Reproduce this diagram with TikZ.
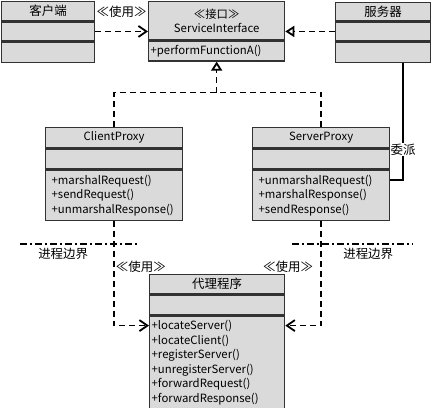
\documentclass[tikz,border=0pt]{standalone}
\usepackage{fontspec}
\setmainfont{Noto Sans CJK SC}
\usetikzlibrary{arrows.meta}
\usetikzlibrary{calc}

\definecolor{boxfill}{RGB}{218,218,218}
\definecolor{boxline}{RGB}{50,50,50}

\tikzset{
	cls/.style={draw=boxline, fill=boxfill, line width=1.3bp, inner sep=0pt, anchor=north west},
	opsbox/.style={cls, align=left, inner xsep=#1},
	cjk/.style={font=\fontsize{12.5}{14.5}\selectfont},
	dep/.style={line width=1.6bp, dash pattern=on 6bp off 4bp},
	uses/.style={dep, -{Straight Barb[length=8bp, width=11bp, line width=1.8bp]}},
	realize/.style={dep, -{Triangle[open, length=9bp, width=11bp, line width=1.8bp]}},
	boundary/.style={line width=1.3bp, dash pattern=on 7bp off 3bp on 2bp off 3bp}
}

\begin{document}
\begin{tikzpicture}[x=1bp, y=-1bp, font=\fontsize{11.4}{14.5}\selectfont]
	\useasboundingbox (0,0) rectangle (438,407);

	% Client
	\begin{scope}
		\node[cls, cjk, minimum width=93bp, minimum height=19bp] (client) at (1,1) {客户端};
		\node[cls, minimum width=93bp, minimum height=19bp] (client-attr) at (client.south west) {};
		\node[cls, minimum width=93bp, minimum height=20bp] (client-ops) at (client-attr.south west) {};
	\end{scope}

	% Interface
	\begin{scope}
		\node[cls, minimum width=136bp, minimum height=38bp, align=center] (iface) at (148,1) {≪接口≫\\ServiceInterface};
		\node[opsbox=2bp, minimum width=136bp, minimum height=20bp, text width=132bp] (iface-ops) at (iface.south west) {+performFunctionA()};
	\end{scope}

	% Server
	\begin{scope}
		\node[cls, cjk, minimum width=95bp, minimum height=18bp] (server) at (335,2) {服务器};
		\node[cls, minimum width=95bp, minimum height=19bp] (server-attr) at (server.south west) {};
		\node[cls, minimum width=95bp, minimum height=20bp] (server-ops) at (server-attr.south west) {};
	\end{scope}

	% Client proxy
	\begin{scope}
		\node[cls, minimum width=137bp, minimum height=20bp] (cproxy) at (45,127) {ClientProxy};
		\node[cls, minimum width=137bp, minimum height=20bp] (cproxy-attr) at (cproxy.south west) {};
		\node[opsbox=6bp, minimum width=137bp, minimum height=50bp, text width=125bp] (cproxy-ops) at (cproxy-attr.south west) {+marshalRequest()\\+sendRequest()\\+unmarshalResponse()};
	\end{scope}

	% Server proxy
	\begin{scope}
		\node[cls, minimum width=137bp, minimum height=20bp] (sproxy) at (252,127) {ServerProxy};
		\node[cls, minimum width=137bp, minimum height=20bp] (sproxy-attr) at (sproxy.south west) {};
		\node[opsbox=6bp, minimum width=137bp, minimum height=50bp, text width=125bp] (sproxy-ops) at (sproxy-attr.south west) {+unmarshalRequest()\\+marshalResponse()\\+sendResponse()};
	\end{scope}

	% Broker
	\begin{scope}
		\node[cls, cjk, minimum width=135bp, minimum height=19bp] (broker) at (149,274) {代理程序};
		\node[cls, minimum width=135bp, minimum height=20bp] (broker-attr) at (broker.south west) {};
		\node[opsbox=2bp, minimum width=135bp, minimum height=93bp, text width=131bp] (broker-ops) at (broker-attr.south west) {+locateServer()\\+locateClient()\\+registerServer()\\+unregisterServer()\\+forwardRequest()\\+forwardResponse()};
	\end{scope}

	% Top connectors
	\draw[uses] (client-attr.east) -- (client-attr.east -| iface.west) node[midway, above=10bp, cjk] (use0) {≪使用≫};
	\draw[realize] (server-attr.west) -- (server-attr.west -| iface.east);

	% Proxies realize the interface
	\coordinate (join) at ($(iface-ops.south)+(0,31)$);
	\draw[dep] (cproxy.north) |- (join);
	\draw[dep] (sproxy.north) |- (join);
	\draw[realize] (join) -- (iface-ops.south);

	% Delegation
	\coordinate (bend) at (403,180);
	\draw[line width=1.6bp] (sproxy-ops.east |- bend) -- (bend) -- (bend |- server-ops.south) node[pos=0.26, fill=white, inner sep=1bp, cjk] (dele) {委派};

	% Process boundaries
	\draw[boundary] (20,244) -- (140,244) node[pos=0.36, below, cjk] (bound1) {进程边界};
	\draw[boundary] (292,244) -- (413,244) node[pos=0.63, below, cjk] (bound2) {进程边界};

	% Proxies use the broker
	\draw[uses] (cproxy-ops.south) |- ([yshift=-10bp]broker-ops.north west) node[pos=0.22, right, inner xsep=1bp, cjk] (use1) {≪使用≫};
	\draw[uses] (sproxy-ops.south) |- ([yshift=-10bp]broker-ops.north east) node[pos=0.22, left, xshift=-4bp, cjk] (use2) {≪使用≫};
\end{tikzpicture}
\end{document}
